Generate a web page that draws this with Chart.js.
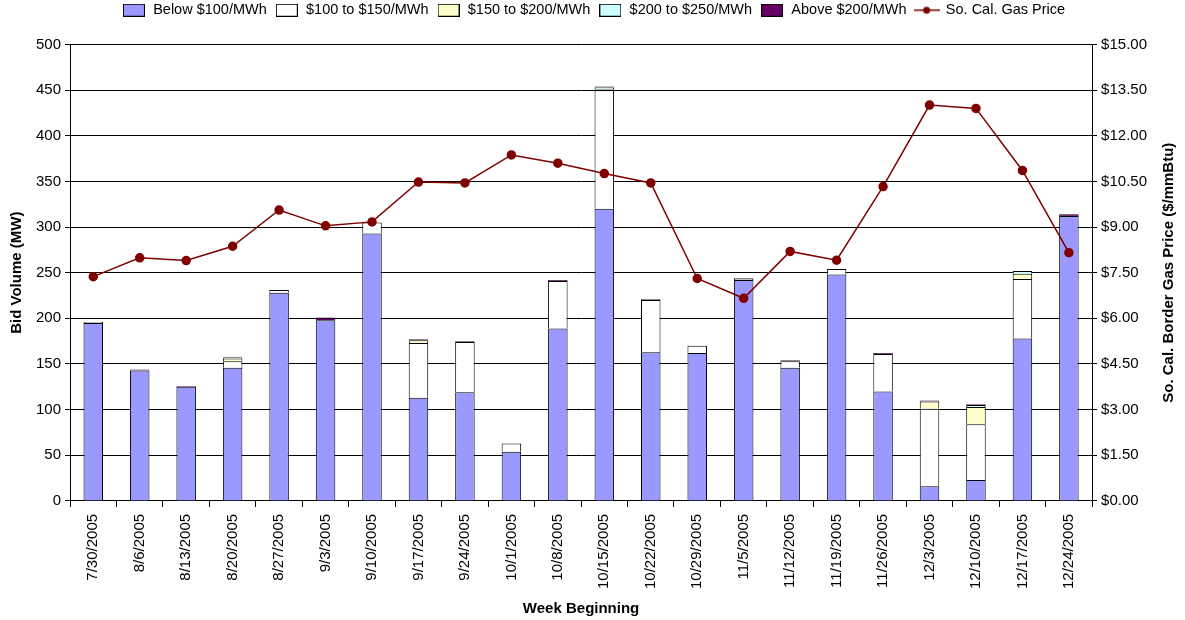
<!DOCTYPE html>
<html>
<head>
<meta charset="utf-8">
<script src="https://cdn.jsdelivr.net/npm/chart.js@4.4.1/dist/chart.umd.min.js"></script>
<style>
  body { margin: 0; background: #fff; }
  canvas { display: block; }
</style>
</head>
<body>
<canvas id="bidChart" width="1185" height="620"></canvas>
<script>
// Semanas
const weeks = ['7/30/2005', '8/6/2005', '8/13/2005', '8/20/2005', '8/27/2005', '9/3/2005', '9/10/2005',
    '9/17/2005', '9/24/2005', '10/1/2005', '10/8/2005', '10/15/2005', '10/22/2005', '10/29/2005',
    '11/5/2005', '11/12/2005', '11/19/2005', '11/26/2005', '12/3/2005', '12/10/2005', '12/17/2005', '12/24/2005'];

// Volumes (MW) por faixa de preço
const below100 = [195, 143, 125, 146, 228, 198, 293, 113, 119, 54, 189, 320, 163, 162, 242, 146, 248, 120, 16, 23, 178, 312];
const from100to150 = [1, 0, 0, 7, 3, 0, 12, 60, 55, 9, 52, 130, 57, 8, 1, 7, 6, 41, 85, 61, 65, 0];
const from150to200 = [0, 0, 0, 3, 0, 0, 0, 3, 0, 0, 0, 1, 0, 0, 0, 0, 0, 0, 8, 19, 6, 0];
const from200to250 = [0, 0, 0, 1, 0, 0, 0, 0, 0, 0, 0, 2, 0, 0, 0, 0, 0, 0, 0, 2, 3, 0];
const above200 = [0, 1, 1, 1, 0, 3, 0, 1, 1, 0, 1, 1, 1, 0, 1, 1, 0, 1, 1, 1, 0, 2];

// Preço do gás ($/mmBtu)
const gasPrice = [7.37, 7.99, 7.90, 8.37, 9.56, 9.04, 9.17, 10.48, 10.45, 11.37, 11.10, 10.76, 10.45,
    7.31, 6.66, 8.20, 7.91, 10.33, 13.01, 12.90, 10.86, 8.16];

const FONT = 'Liberation Sans, Arial, sans-serif';
const lineColor = '#800000';

// icones da legenda
function boxIcon(fill) {
    const c = document.createElement('canvas');
    c.width = 22; c.height = 13;
    const g = c.getContext('2d');
    g.fillStyle = fill;
    g.fillRect(0.5, 0.5, 21, 12);
    g.strokeStyle = '#000';
    g.lineWidth = 1;
    g.strokeRect(0.5, 0.5, 21, 12);
    return c;
}
function lineIcon() {
    const c = document.createElement('canvas');
    c.width = 26; c.height = 12;
    const g = c.getContext('2d');
    g.strokeStyle = lineColor;
    g.lineWidth = 1.5;
    g.beginPath(); g.moveTo(0, 6); g.lineTo(26, 6); g.stroke();
    g.fillStyle = lineColor;
    g.beginPath(); g.arc(13, 6, 3.5, 0, Math.PI * 2); g.fill();
    return c;
}

function barSet(label, data, color) {
    return {
        type: 'bar', label: label, data: data, yAxisID: 'y', order: 1,
        backgroundColor: color, borderColor: '#000', borderWidth: 1,
        barPercentage: 0.42, categoryPercentage: 1, stack: 'bids'
    };
}

// espaço extra abaixo da legenda
const legendGap = {
    id: 'legendGap',
    beforeInit(chart) {
        const fit = chart.legend.fit;
        chart.legend.fit = function() {
            fit.bind(chart.legend)();
            this.height += 17;
        };
    }
};

// título do eixo direito, lido de baixo para cima
const rightTitle = {
    id: 'rightTitle',
    afterDraw(chart) {
        const s = chart.scales.y1;
        const ctx = chart.ctx;
        ctx.save();
        ctx.translate(s.right - 10, (s.top + s.bottom) / 2);
        ctx.rotate(-Math.PI / 2);
        ctx.font = 'bold 15px ' + FONT;
        ctx.fillStyle = '#000';
        ctx.textAlign = 'center';
        ctx.textBaseline = 'middle';
        ctx.fillText('So. Cal. Border Gas Price ($/mmBtu)', 0, 0);
        ctx.restore();
    }
};

const ctx = document.getElementById('bidChart').getContext('2d');
new Chart(ctx, {
    data: {
        labels: weeks,
        datasets: [
            barSet('Below $100/MWh', below100, '#9999FF'),
            barSet('$100 to $150/MWh', from100to150, '#FFFFFF'),
            barSet('$150 to $200/MWh', from150to200, '#FFFFCC'),
            barSet('$200 to $250/MWh', from200to250, '#CCFFFF'),
            barSet('Above $200/MWh', above200, '#660066'),
            {
                type: 'line', label: 'So. Cal. Gas Price', data: gasPrice, yAxisID: 'y1', order: 0,
                borderColor: lineColor, backgroundColor: lineColor, borderWidth: 1.5,
                pointRadius: 4, pointBackgroundColor: lineColor, pointBorderColor: lineColor,
                tension: 0
            }
        ]
    },
    options: {
        responsive: false,
        animation: false,
        layout: { padding: { top: -5, left: 8, right: 6, bottom: 2 } },
        plugins: {
            tooltip: { enabled: false },
            legend: {
                position: 'top',
                labels: {
                    font: { family: FONT, size: 14.5 },
                    color: '#000',
                    padding: 8,
                    boxHeight: 13,
                    boxWidth: 24,
                    usePointStyle: true,
                    pointStyleWidth: 24,
                    generateLabels(chart) {
                        const icons = [boxIcon('#9999FF'), boxIcon('#FFFFFF'), boxIcon('#FFFFCC'),
                            boxIcon('#CCFFFF'), boxIcon('#660066'), lineIcon()];
                        return chart.data.datasets.map((ds, i) => ({
                            text: ds.label,
                            datasetIndex: i,
                            pointStyle: icons[i],
                            fontColor: '#000',
                            hidden: false,
                            lineWidth: 0
                        }));
                    }
                }
            }
        },
        scales: {
            x: {
                stacked: true,
                offset: true,
                border: { color: '#000' },
                grid: { display: true, drawOnChartArea: false, drawTicks: true, tickLength: 6, color: '#000', offset: true },
                ticks: { font: { family: FONT, size: 15 }, color: '#000', minRotation: 90, maxRotation: 90, autoSkip: false, padding: 7 },
                title: { display: true, text: 'Week Beginning', font: { family: FONT, size: 15, weight: 'bold' }, color: '#000', padding: { top: 4, bottom: 0 } }
            },
            y: {
                stacked: true,
                position: 'left',
                min: 0, max: 500,
                border: { color: '#000' },
                grid: { color: '#000', lineWidth: 1, tickLength: 5 },
                ticks: { stepSize: 50, font: { family: FONT, size: 15 }, color: '#000', padding: 4 },
                title: { display: true, text: 'Bid Volume (MW)', font: { family: FONT, size: 15, weight: 'bold' }, color: '#000', padding: { top: 0, bottom: 6 } }
            },
            y1: {
                position: 'right',
                min: 0, max: 15,
                border: { color: '#000' },
                grid: { drawOnChartArea: false, color: '#000', tickLength: 5 },
                ticks: {
                    stepSize: 1.5, font: { family: FONT, size: 15 }, color: '#000', padding: 4,
                    callback: v => '$' + v.toFixed(2)
                },
                title: { display: true, text: 'So. Cal. Border Gas Price ($/mmBtu)', font: { family: FONT, size: 15, weight: 'bold' }, color: 'rgba(0,0,0,0)', padding: { top: 6, bottom: 4 } }
            }
        }
    },
    plugins: [legendGap, rightTitle]
});
</script>
</body>
</html>
